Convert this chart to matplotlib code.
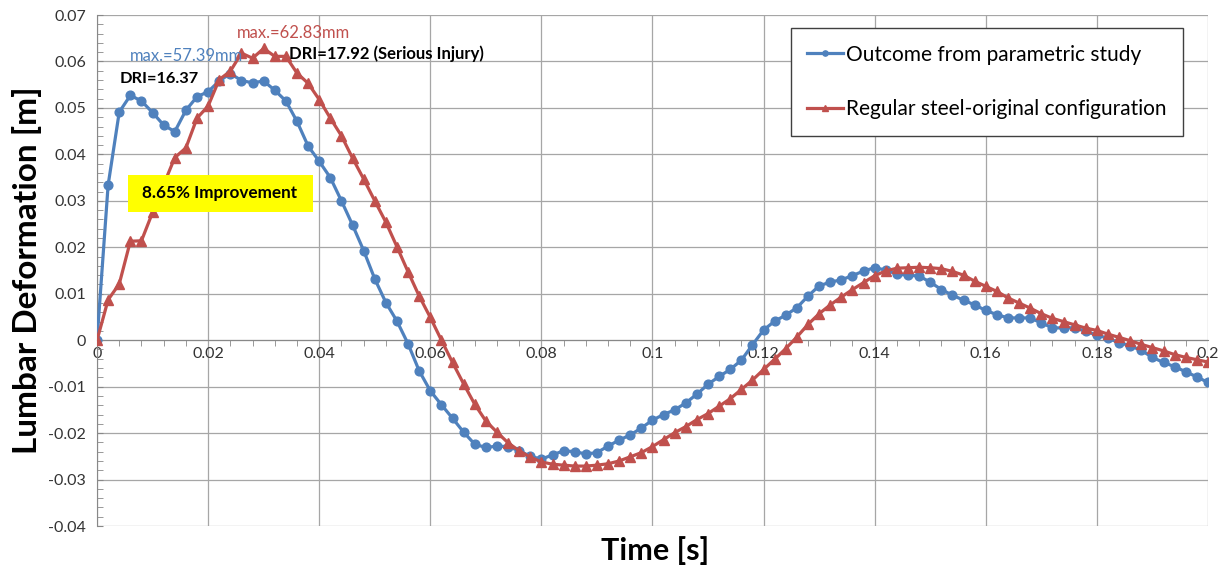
import numpy as np
import matplotlib
matplotlib.use('Agg')
import matplotlib.pyplot as plt
from matplotlib.patches import Rectangle

plt.rcParams['font.family'] = ['Lato', 'DejaVu Sans']

# time steps of 0.002 s, 0 .. 0.2
time = [round(0.002 * i, 3) for i in range(101)]

outcome = [
    0.0000, 0.0334, 0.0491, 0.0527, 0.0515, 0.0490, 0.0463, 0.0449, 0.0495, 0.0524,
    0.0535, 0.0558, 0.0574, 0.0559, 0.0554, 0.0558, 0.0538, 0.0515, 0.0471, 0.0418,
    0.0385, 0.0350, 0.0300, 0.0248, 0.0193, 0.0132, 0.0081, 0.0041, -0.0008, -0.0066,
    -0.0109, -0.0139, -0.0168, -0.0198, -0.0224, -0.0231, -0.0228, -0.0229, -0.0238, -0.0250,
    -0.0256, -0.0247, -0.0238, -0.0240, -0.0245, -0.0242, -0.0228, -0.0215, -0.0204, -0.0189,
    -0.0172, -0.0160, -0.0150, -0.0135, -0.0116, -0.0095, -0.0078, -0.0063, -0.0043, -0.0010,
    0.0022, 0.0041, 0.0054, 0.0070, 0.0095, 0.0117, 0.0125, 0.0130, 0.0139, 0.0149,
    0.0156, 0.0151, 0.0142, 0.0140, 0.0138, 0.0125, 0.0109, 0.0097, 0.0086, 0.0076,
    0.0064, 0.0055, 0.0048, 0.0048, 0.0048, 0.0037, 0.0027, 0.0026, 0.0027, 0.0019,
    0.0011, 0.0004, -0.0005, -0.0012, -0.0022, -0.0037, -0.0048, -0.0057, -0.0068, -0.0079,
    -0.0091,
]

regular = [
    0.0000, 0.0087, 0.0121, 0.0213, 0.0214, 0.0275, 0.0335, 0.0393, 0.0414, 0.0478,
    0.0504, 0.0561, 0.0579, 0.0618, 0.0607, 0.0628, 0.0611, 0.0611, 0.0575, 0.0553,
    0.0518, 0.0478, 0.0440, 0.0392, 0.0347, 0.0300, 0.0254, 0.0201, 0.0147, 0.0095,
    0.0049, 0.0000, -0.0048, -0.0094, -0.0138, -0.0174, -0.0198, -0.0221, -0.0238, -0.0252,
    -0.0262, -0.0267, -0.0269, -0.0271, -0.0271, -0.0269, -0.0266, -0.0260, -0.0251, -0.0242,
    -0.0229, -0.0214, -0.0199, -0.0186, -0.0171, -0.0158, -0.0142, -0.0126, -0.0106, -0.0086,
    -0.0063, -0.0041, -0.0018, 0.0007, 0.0034, 0.0057, 0.0076, 0.0093, 0.0109, 0.0124,
    0.0139, 0.0149, 0.0155, 0.0156, 0.0157, 0.0156, 0.0154, 0.0148, 0.0140, 0.0127,
    0.0116, 0.0105, 0.0091, 0.0080, 0.0069, 0.0057, 0.0047, 0.0040, 0.0033, 0.0026,
    0.0021, 0.0013, 0.0006, -0.0001, -0.0009, -0.0016, -0.0023, -0.0031, -0.0037, -0.0042,
    -0.0047,
]

xticks = [0, 0.02, 0.04, 0.06, 0.08, 0.1, 0.12, 0.14, 0.16, 0.18, 0.2]
xlabels = ['0', '0.02', '0.04', '0.06', '0.08', '0.1', '0.12', '0.14', '0.16', '0.18', '0.2']
yticks = [-0.04, -0.03, -0.02, -0.01, 0, 0.01, 0.02, 0.03, 0.04, 0.05, 0.06, 0.07]
ylabels = ['-0.04', '-0.03', '-0.02', '-0.01', '0', '0.01', '0.02', '0.03', '0.04', '0.05', '0.06', '0.07']

blue = '#4F81BD'
red = '#C0504D'

fig = plt.figure(figsize=(12.25, 5.71), dpi=100)
ax = fig.add_axes([0.0792, 0.0788, 0.9069, 0.8949])

ax.plot(time, outcome, color=blue, lw=2.3, marker='o', ms=6.3,
        label='Outcome from parametric study', zorder=3)
ax.plot(time, regular, color=red, lw=2.3, marker='^', ms=6.6,
        label='Regular steel-original configuration', zorder=4)

ax.set_xlim(0, 0.2)
ax.set_ylim(-0.04, 0.07)
ax.set_xticks(xticks)
ax.set_xticklabels(xlabels)
ax.set_yticks(yticks)
ax.set_yticklabels(ylabels)
ax.set_xticks(np.arange(0, 0.2001, 0.004), minor=True)
ax.set_yticks(np.arange(-0.04, 0.0701, 0.002), minor=True)
ax.grid(True, which='major', color='#a6a6a6', lw=0.9, zorder=0)
ax.set_axisbelow(True)

for s in ['top', 'right']:
    ax.spines[s].set_visible(False)
ax.spines['left'].set_color('#888888')
ax.spines['bottom'].set_position(('data', 0))
ax.spines['bottom'].set_color('#888888')

ax.tick_params(axis='x', which='major', length=0, labelsize=11.5, colors='#333333', pad=5)
ax.tick_params(axis='x', which='minor', direction='out', length=4, color='#888888')
ax.tick_params(axis='y', which='both', direction='in', length=4, color='#888888')
ax.tick_params(axis='y', which='major', labelsize=11.5, labelcolor='#333333', pad=8)

fig.text(0.5347, 1 - 551 / 571, 'Time [s]', fontsize=22, fontweight='bold',
         ha='center', va='center')
ax.set_ylabel('Lumbar Deformation [m]', fontsize=24, fontweight='bold', labelpad=4)

ax.text(0.0059, 0.0612, 'max.=57.39mm', color=blue, fontsize=12, ha='left', va='center', zorder=5)
ax.text(0.0251, 0.0661, 'max.=62.83mm', color=red, fontsize=12, ha='left', va='center', zorder=5)
ax.text(0.0345, 0.0616, 'DRI=17.92 (Serious Injury)', fontsize=12, fontweight='bold',
        ha='left', va='center', zorder=5)
ax.text(0.0041, 0.0562, 'DRI=16.37', fontsize=11.8, fontweight='bold', ha='left', va='center', zorder=5)

ax.add_patch(Rectangle((0.0055, 0.0277), 0.0333, 0.0079, facecolor='#FFFF00',
                       edgecolor='none', zorder=6))
ax.text(0.0221, 0.0316, '8.65% Improvement', fontsize=12.3, fontweight='bold',
        ha='center', va='center', zorder=7)

leg = ax.legend(loc='upper right', bbox_to_anchor=(0.9775, 0.9746), fontsize=15,
                frameon=True, fancybox=False, edgecolor='#404040', framealpha=1,
                labelspacing=1.65, handlelength=1.7, handletextpad=0.15,
                borderpad=0.8, borderaxespad=0, markerscale=0.6)
leg.get_frame().set_linewidth(1.0)
leg.set_zorder(8)

fig.savefig('out.png', dpi=100)
